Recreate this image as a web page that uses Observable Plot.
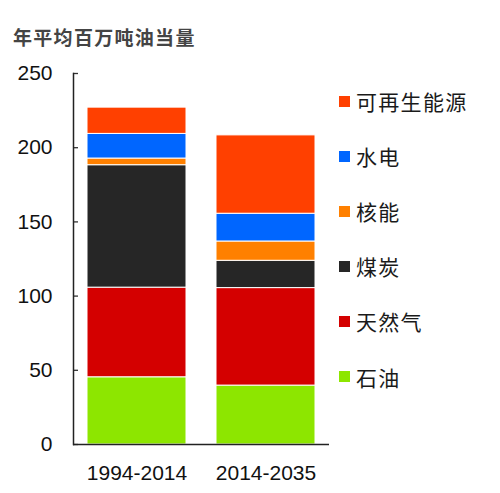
<!DOCTYPE html>
<html><head><meta charset="utf-8">
<script src="https://cdn.jsdelivr.net/npm/d3@7"></script>
<script src="https://cdn.jsdelivr.net/npm/@observablehq/plot@0.6"></script>
<style>
body{margin:0;background:#fff;}
#wrap{position:relative;width:500px;height:493px;overflow:hidden;background:#fff;}
#title{position:absolute;left:13px;top:27px;font-family:"Noto Sans CJK SC",sans-serif;font-weight:bold;font-size:19px;line-height:1;letter-spacing:1.3px;color:#444;white-space:nowrap;}
#chart{position:absolute;left:0;top:0;}
.lg{position:absolute;left:339px;height:22px;display:flex;align-items:center;font-family:"Noto Sans CJK SC",sans-serif;font-size:21px;letter-spacing:1.3px;color:#1a1a1a;white-space:nowrap;}
.lg .sw{width:11px;height:11px;margin-right:6px;flex:none;}
</style></head><body><div id="wrap"><div id="chart"></div><div id="title"></div></div>
<script>
const titleText = "年平均百万吨油当量";
const periods = ["1994-2014", "2014-2035"];
const sources = ["石油", "天然气", "煤炭", "核能", "水电", "可再生能源"];
const colors = ["#8de600", "#d40000", "#262626", "#ff8000", "#0066ff", "#ff4000"];
const oil = [45.3, 39.7];
const gas = [60.4, 65.7];
const coal = [82.5, 18.4];
const nuclear = [4.5, 13.0];
const hydro = [16.6, 18.7];
const renew = [17.7, 52.8];
const yTicks = [0, 50, 100, 150, 200, 250];

const series = [oil, gas, coal, nuclear, hydro, renew];
const data = [];
sources.forEach((s, i) => periods.forEach((p, j) => data.push({source: s, period: p, value: series[i][j]})));

document.getElementById("title").textContent = titleText;

const chart = Plot.plot({
  width: 340, height: 493,
  marginTop: 73, marginBottom: 49, marginLeft: 73, marginRight: 11,
  style: {fontFamily: "'Liberation Sans', Arial, sans-serif", fontSize: "21px", color: "#111", background: "transparent"},
  x: {domain: periods, paddingInner: 0.235, paddingOuter: 0.108, label: null},
  y: {domain: [0, 250], ticks: yTicks, label: null},
  color: {domain: sources, range: colors},
  marks: [
    Plot.barY(data, {x: "period", y: "value", fill: "source", stroke: "white", strokeWidth: 1, order: sources}),
    Plot.gridY(yTicks, {insetRight: 251, stroke: "#333", strokeOpacity: 1, strokeWidth: 1.3}),
    Plot.axisY(yTicks, {tickSize: 0, tickPadding: 21, fontSize: 21, label: null}),
    Plot.axisX({tickSize: 0, tickPadding: 21, fontSize: 21, label: null}),
    Plot.ruleY([0], {stroke: "#222", strokeWidth: 1.5}),
    Plot.frame({anchor: "left", stroke: "#222", strokeWidth: 1.5})
  ]
});
document.getElementById("chart").appendChild(chart);

const wrap = document.getElementById("wrap");
sources.slice().reverse().forEach((s, k) => {
  const i = sources.length - 1 - k;
  const row = document.createElement("div");
  row.className = "lg";
  row.style.top = (101 + 55.1 * k - 11) + "px";
  const sw = document.createElement("div");
  sw.className = "sw";
  sw.style.background = colors[i];
  const tx = document.createElement("span");
  tx.textContent = s;
  row.appendChild(sw);
  row.appendChild(tx);
  wrap.appendChild(row);
});
</script></body></html>
